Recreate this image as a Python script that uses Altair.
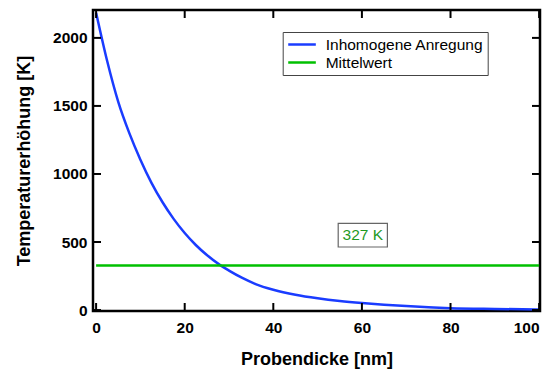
import altair as alt
import pandas as pd

# Temperature rise across the sample thickness (inhomogeneous excitation)
thickness_nm = [0, 2.5, 5, 7.5, 10, 12.5, 15, 17.5, 20, 22.5, 25, 28, 30, 33,
                36, 40, 45, 50, 55, 60, 65, 70, 75, 80, 90, 100]
temp_rise_K = [2185, 1830, 1530, 1300, 1105, 935, 792, 670, 566, 478, 404, 330,
               290, 236, 191, 149, 112, 86, 66, 51, 39, 29, 21, 14, 8, 4]

# Mean value over the thickness
mean_K = 327
mean_x = [0, 100]

series_names = ["Inhomogene Anregung", "Mittelwert"]
series_colors = ["#1a3cff", "#00c000"]

x_ticks = [0, 20, 40, 60, 80, 100]
y_ticks = [0, 500, 1000, 1500, 2000]

W, H = 447, 301
TICK = 8
FONT = "Liberation Sans"

curve = pd.DataFrame({"x": thickness_nm, "y": temp_rise_K, "s": series_names[0]})
mean = pd.DataFrame({"x": mean_x, "y": [mean_K] * len(mean_x), "s": series_names[1]})
lines_df = pd.concat([curve, mean], ignore_index=True)

xs = alt.Scale(domain=[-0.7, 100.2], nice=False, zero=False)
ys = alt.Scale(domain=[-7, 2205], nice=False, zero=False)

x_axis = alt.Axis(values=x_ticks, format="d", ticks=False, domain=False, grid=False,
                  labelFont=FONT, labelFontSize=15.5, labelFontWeight="bold",
                  labelColor="black", labelPadding=9,
                  title="Probendicke [nm]", titleFont=FONT, titleFontSize=18,
                  titleFontWeight="bold", titleColor="black", titlePadding=15)
y_axis = alt.Axis(values=y_ticks, format="d", ticks=False, domain=False, grid=False,
                  labelFont=FONT, labelFontSize=15.5, labelFontWeight="bold",
                  labelColor="black", labelPadding=6,
                  title="Temperaturerhöhung [K]", titleFont=FONT, titleFontSize=18,
                  titleFontWeight="bold", titleColor="black", titlePadding=19)

# legend symbol: a short stroke drawn past the symbol box so labels stay close
legend = alt.Legend(orient="none", legendX=189.7, legendY=22, title=None,
                    symbolType="M-0.93,0H2.75", symbolSize=225,
                    symbolStrokeWidth=2.5, labelFont=FONT,
                    labelFontSize=15.5, labelColor="black",
                    strokeColor="#444", fillColor="white",
                    padding=3.5, rowPadding=-1.1, labelOffset=21.5)

lines = alt.Chart(lines_df).mark_line(strokeWidth=2.5, interpolate="monotone", clip=True).encode(
    x=alt.X("x:Q", scale=xs, axis=x_axis),
    y=alt.Y("y:Q", scale=ys, axis=y_axis),
    color=alt.Color("s:N", scale=alt.Scale(domain=series_names, range=series_colors),
                    legend=legend),
    detail="s:N",
)

# inward tick marks on all four sides
xt = pd.DataFrame({"v": x_ticks})
yt = pd.DataFrame({"v": y_ticks})
tick_style = dict(color="black", strokeWidth=2)
bottom_t = alt.Chart(xt).mark_rule(**tick_style).encode(
    x=alt.X("v:Q", scale=xs), y=alt.value(H - TICK), y2=alt.value(H))
top_t = alt.Chart(xt).mark_rule(**tick_style).encode(
    x=alt.X("v:Q", scale=xs), y=alt.value(0), y2=alt.value(TICK))
left_t = alt.Chart(yt).mark_rule(**tick_style).encode(
    y=alt.Y("v:Q", scale=ys), x=alt.value(0), x2=alt.value(TICK))
right_t = alt.Chart(yt).mark_rule(**tick_style).encode(
    y=alt.Y("v:Q", scale=ys), x=alt.value(W - TICK), x2=alt.value(W))

# boxed annotation stating the mean value
ann = pd.DataFrame({"x": [60.2], "y": [550], "label": [f"{mean_K} K"]})
ann_box = alt.Chart(ann).mark_point(shape="M-1,-0.48H1V0.48H-1Z", size=2420, filled=True,
                                    fill="white", stroke="#666", strokeWidth=1.2,
                                    opacity=1).encode(
    x=alt.X("x:Q", scale=xs), y=alt.Y("y:Q", scale=ys))
ann_text = alt.Chart(ann).mark_text(font=FONT, fontSize=15.5, color="#1f9a1f",
                                    align="center", baseline="middle").encode(
    x=alt.X("x:Q", scale=xs), y=alt.Y("y:Q", scale=ys), text="label:N")

chart = alt.layer(lines, ann_box, ann_text, bottom_t, top_t, left_t, right_t).properties(
    width=W, height=H,
    autosize=alt.AutoSizeParams(type="none"),
    padding={"left": 93, "top": 10, "right": 10, "bottom": 58},
    background="white",
).configure_view(stroke="black", strokeWidth=2.5)

chart.save("out.html", embed_options={"renderer": "svg", "actions": False})
